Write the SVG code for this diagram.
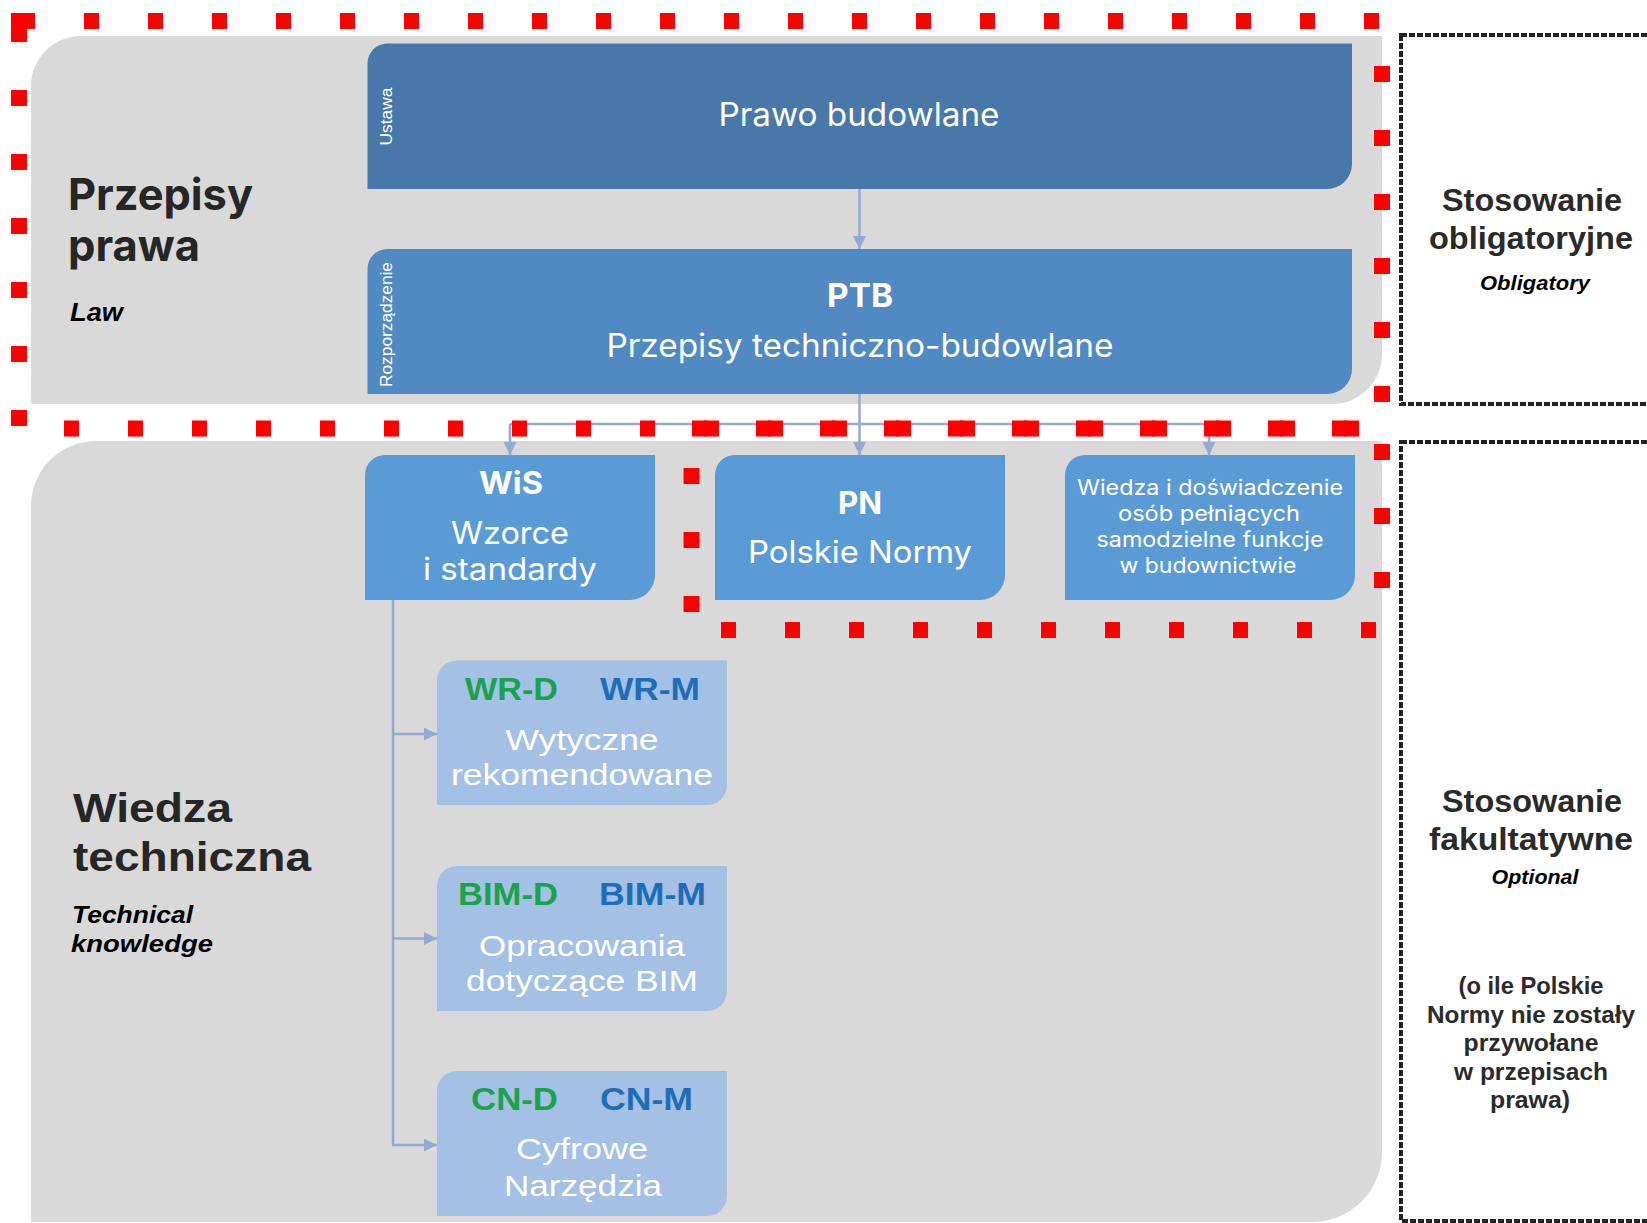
<svg xmlns="http://www.w3.org/2000/svg" width="1647" height="1223" viewBox="0 0 1647 1223">
<style>
.panel{fill:#d9d9d9}
.b1{fill:#4878a9}
.b2{fill:#5189c3}
.b3{fill:#5b9bd5}
.b4{fill:#a4c0e4}
.red{stroke:#ff0000;stroke-width:16;fill:none}
.rh{stroke-dasharray:15 49}
.rv{stroke-dasharray:16 48}
.blk{fill:none;stroke:#222;stroke-width:4;stroke-dasharray:6 2}
.con{stroke:#93a9d2;stroke-width:2.5;fill:none}
.inter{font-family:Inter,"Liberation Sans",sans-serif;fill:#fff}
.lib{font-family:"Liberation Sans",Arial,sans-serif}
.title{fill:#262626;font-weight:bold}
.it{font-style:italic;font-weight:bold;fill:#000}
.c{text-anchor:middle}
.g{fill:#1aa34a;font-weight:bold}
.bl{fill:#1e6db8;font-weight:bold}
.w{fill:#fff}
</style>
<defs>
<marker id="arr" markerUnits="userSpaceOnUse" markerWidth="13" markerHeight="13" refX="13" refY="6.5" orient="auto">
<path d="M0,0 L13,6.5 L0,13 Z" fill="#93a9d2"/>
</marker>
</defs>
<rect width="1647" height="1223" fill="#fff"/>

<g id="panel-law">
<path class="panel" d="M31,86 A50,50 0 0 1 81,36 H1382 V354 A50,50 0 0 1 1332,404 H31 Z"/>
<text class="inter title" x="68" y="210" font-size="44" textLength="185" lengthAdjust="spacingAndGlyphs" style="fill:#262626">Przepisy</text>
<text class="inter title" x="68" y="261" font-size="44" textLength="132" lengthAdjust="spacingAndGlyphs" style="fill:#262626">prawa</text>
<text class="lib it" x="70" y="321" font-size="25" textLength="53" lengthAdjust="spacingAndGlyphs">Law</text>
</g>

<g id="panel-tech">
<path class="panel" d="M31,506 A65,65 0 0 1 96,441 H1382 V1152 A70,70 0 0 1 1312,1222 H31 Z"/>
<text class="lib title" x="73" y="822" font-size="41" textLength="159" lengthAdjust="spacingAndGlyphs">Wiedza</text>
<text class="lib title" x="73" y="871" font-size="41" textLength="238" lengthAdjust="spacingAndGlyphs">techniczna</text>
<text class="lib it" x="72" y="923" font-size="23" textLength="121" lengthAdjust="spacingAndGlyphs">Technical</text>
<text class="lib it" x="71" y="952" font-size="23" textLength="142" lengthAdjust="spacingAndGlyphs">knowledge</text>
</g>

<g id="box-obligatory">
<rect class="blk" x="1401" y="35" width="270" height="369"/>
<text class="lib title c" x="1532" y="211" font-size="32" textLength="180" lengthAdjust="spacingAndGlyphs" style="fill:#2a2a2a">Stosowanie</text>
<text class="lib title c" x="1531" y="249" font-size="32" textLength="204" lengthAdjust="spacingAndGlyphs" style="fill:#2a2a2a">obligatoryjne</text>
<text class="lib it c" x="1535" y="290" font-size="20" textLength="110" lengthAdjust="spacingAndGlyphs">Obligatory</text>
</g>

<g id="box-optional">
<rect class="blk" x="1401" y="442" width="270" height="779"/>
<text class="lib title c" x="1532" y="812" font-size="32" textLength="180" lengthAdjust="spacingAndGlyphs" style="fill:#2a2a2a">Stosowanie</text>
<text class="lib title c" x="1531" y="850" font-size="32" textLength="204" lengthAdjust="spacingAndGlyphs" style="fill:#2a2a2a">fakultatywne</text>
<text class="lib it c" x="1535" y="884" font-size="20" textLength="87" lengthAdjust="spacingAndGlyphs">Optional</text>
<g class="lib title c" font-size="23" style="fill:#2a2a2a">
<text x="1531" y="994" textLength="145" lengthAdjust="spacingAndGlyphs">(o ile Polskie</text>
<text x="1531" y="1022.5" textLength="208" lengthAdjust="spacingAndGlyphs">Normy nie zostały</text>
<text x="1531" y="1051" textLength="135" lengthAdjust="spacingAndGlyphs">przywołane</text>
<text x="1531" y="1079.5" textLength="154" lengthAdjust="spacingAndGlyphs">w przepisach</text>
<text x="1530" y="1108" textLength="80" lengthAdjust="spacingAndGlyphs">prawa)</text>
</g>
</g>

<g id="connectors">
<line class="con" x1="859.5" y1="189" x2="859.5" y2="249" marker-end="url(#arr)"/>
<line class="con" x1="859.5" y1="394" x2="859.5" y2="455" marker-end="url(#arr)"/>
<line class="con" x1="510" y1="424" x2="1209" y2="424"/>
<line class="con" x1="510" y1="424" x2="510" y2="455" marker-end="url(#arr)"/>
<line class="con" x1="1209" y1="424" x2="1209" y2="455" marker-end="url(#arr)"/>
<line class="con" x1="393" y1="600" x2="393" y2="1145"/>
<line class="con" x1="392" y1="734" x2="437" y2="734" marker-end="url(#arr)"/>
<line class="con" x1="392" y1="938.5" x2="437" y2="938.5" marker-end="url(#arr)"/>
<line class="con" x1="392" y1="1145" x2="437" y2="1145" marker-end="url(#arr)"/>
</g>

<g id="node-prawo">
<path class="b1" d="M367.5,63.5 A20,20 0 0 1 387.5,43.5 H1352 V164 A25,25 0 0 1 1327,189 H367.5 Z"/>
<text class="lib w c" transform="translate(392,116.5) rotate(-90)" font-size="17" textLength="58" lengthAdjust="spacingAndGlyphs">Ustawa</text>
<text class="inter c" x="859" y="126" font-size="32" textLength="281" lengthAdjust="spacingAndGlyphs">Prawo budowlane</text>
</g>

<g id="node-ptb">
<path class="b2" d="M367.5,269 A20,20 0 0 1 387.5,249 H1352 V369 A25,25 0 0 1 1327,394 H367.5 Z"/>
<text class="lib w c" transform="translate(392,324.5) rotate(-90)" font-size="17" textLength="125" lengthAdjust="spacingAndGlyphs">Rozporządzenie</text>
<text class="inter c" x="860" y="307" font-size="32" font-weight="bold" textLength="66" lengthAdjust="spacingAndGlyphs">PTB</text>
<text class="inter c" x="860" y="356.5" font-size="32" textLength="507" lengthAdjust="spacingAndGlyphs">Przepisy techniczno-budowlane</text>
</g>

<g id="node-wis">
<path class="b3" d="M365,475 A20,20 0 0 1 385,455 H655 V575 A25,25 0 0 1 630,600 H365 Z"/>
<text class="inter c" x="511" y="494" font-size="31" font-weight="bold" textLength="64" lengthAdjust="spacingAndGlyphs">WiS</text>
<text class="inter c" x="510" y="544" font-size="31" textLength="118" lengthAdjust="spacingAndGlyphs">Wzorce</text>
<text class="inter c" x="510" y="580" font-size="31" textLength="174" lengthAdjust="spacingAndGlyphs">i standardy</text>
</g>

<g id="node-pn">
<path class="b3" d="M715,475 A20,20 0 0 1 735,455 H1005 V575 A25,25 0 0 1 980,600 H715 Z"/>
<text class="inter c" x="860" y="514" font-size="31" font-weight="bold" textLength="44" lengthAdjust="spacingAndGlyphs">PN</text>
<text class="inter c" x="860" y="562.5" font-size="31" textLength="224" lengthAdjust="spacingAndGlyphs">Polskie Normy</text>
</g>

<g id="node-wiedza">
<path class="b3" d="M1065,475 A20,20 0 0 1 1085,455 H1355 V575 A25,25 0 0 1 1330,600 H1065 Z"/>
<g class="inter c" font-size="21">
<text x="1210" y="495" textLength="266" lengthAdjust="spacingAndGlyphs">Wiedza i doświadczenie</text>
<text x="1209" y="521" textLength="182" lengthAdjust="spacingAndGlyphs">osób pełniących</text>
<text x="1210" y="547" textLength="227" lengthAdjust="spacingAndGlyphs">samodzielne funkcje</text>
<text x="1208" y="573" textLength="177" lengthAdjust="spacingAndGlyphs">w budownictwie</text>
</g>
</g>

<g id="node-wr">
<path class="b4" d="M437,680.5 A20,20 0 0 1 457,660.5 H727 V785 A20,20 0 0 1 707,805 H437 Z"/>
<text class="lib g" x="558" y="699.5" font-size="31" text-anchor="end" textLength="93" lengthAdjust="spacingAndGlyphs">WR-D</text>
<text class="lib bl" x="600" y="699.5" font-size="31" textLength="100" lengthAdjust="spacingAndGlyphs">WR-M</text>
<text class="lib w c" x="582" y="749.5" font-size="30" textLength="153" lengthAdjust="spacingAndGlyphs">Wytyczne</text>
<text class="lib w c" x="582" y="785" font-size="30" textLength="262" lengthAdjust="spacingAndGlyphs">rekomendowane</text>
</g>

<g id="node-bim">
<path class="b4" d="M437,886 A20,20 0 0 1 457,866 H727 V991 A20,20 0 0 1 707,1011 H437 Z"/>
<text class="lib g" x="558" y="904.5" font-size="31" text-anchor="end" textLength="100" lengthAdjust="spacingAndGlyphs">BIM-D</text>
<text class="lib bl" x="599" y="904.5" font-size="31" textLength="107" lengthAdjust="spacingAndGlyphs">BIM-M</text>
<text class="lib w c" x="582" y="956" font-size="30" textLength="206" lengthAdjust="spacingAndGlyphs">Opracowania</text>
<text class="lib w c" x="582" y="991" font-size="30" textLength="232" lengthAdjust="spacingAndGlyphs">dotyczące BIM</text>
</g>

<g id="node-cn">
<path class="b4" d="M437,1091 A20,20 0 0 1 457,1071 H727 V1196 A20,20 0 0 1 707,1216 H437 Z"/>
<text class="lib g" x="558" y="1110" font-size="31" text-anchor="end" textLength="87" lengthAdjust="spacingAndGlyphs">CN-D</text>
<text class="lib bl" x="600" y="1110" font-size="31" textLength="93" lengthAdjust="spacingAndGlyphs">CN-M</text>
<text class="lib w c" x="582" y="1158.5" font-size="30" textLength="132" lengthAdjust="spacingAndGlyphs">Cyfrowe</text>
<text class="lib w c" x="583" y="1196" font-size="30" textLength="158" lengthAdjust="spacingAndGlyphs">Narzędzia</text>
</g>

<g id="red-outlines">
<rect x="11" y="13" width="24" height="16" fill="#ff0000"/>
<rect x="11" y="13" width="16" height="29" fill="#ff0000"/>
<line class="red rh" x1="84" y1="21" x2="1390" y2="21"/>
<line class="red rv" x1="19" y1="90" x2="19" y2="430"/>
<line class="red rh" x1="64" y1="428.5" x2="1362" y2="428.5"/>
<line class="red rv" x1="1382" y1="66" x2="1382" y2="404"/>
<line class="red rh" x1="692" y1="428.5" x2="1362" y2="428.5"/>
<line class="red rv" x1="1382" y1="444" x2="1382" y2="600"/>
<line class="red rv" x1="691.5" y1="468" x2="691.5" y2="615"/>
<line class="red rh" x1="721" y1="630" x2="1380" y2="630"/>
</g>
</svg>
